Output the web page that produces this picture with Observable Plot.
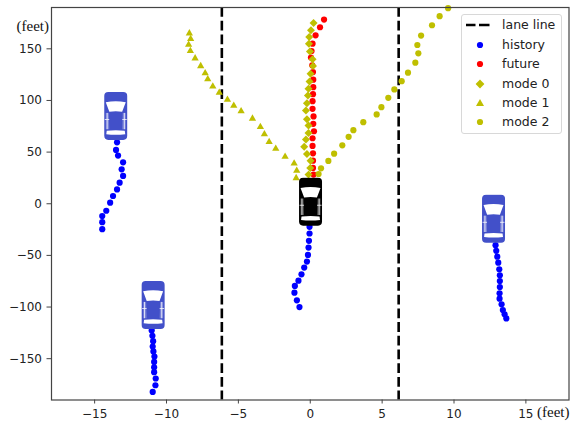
<!DOCTYPE html>
<html>
<head>
<meta charset="utf-8">
<script src="https://cdn.jsdelivr.net/npm/d3@7"></script>
<script src="https://cdn.jsdelivr.net/npm/@observablehq/plot@0.6"></script>
<style>
html,body{margin:0;padding:0;background:#fff;}
#wrap{position:relative;width:571px;height:421px;overflow:hidden;}
#legend{position:absolute;left:461px;top:14px;width:101px;height:120px;box-sizing:border-box;border:1px solid #d8d8d8;border-radius:3px;background:rgba(255,255,255,.85);font:12.5px "DejaVu Sans";color:#222;}
#legend .row{position:absolute;left:0;right:0;height:16px;line-height:16px;}
#legend .row span{position:absolute;left:40px;white-space:nowrap;}
#legend svg{position:absolute;left:4px;top:0;width:32px;height:16px;}
svg{display:block}
</style>
</head>
<body>
<div id="wrap"><div id="chart"></div><div id="legend"></div></div>
<script>
const laneX = [-6.15, 6.15];
const xTicks = [-15,-10,-5,0,5,10,15];
const yTicks = [-150,-100,-50,0,50,100,150];

const hist1X = [-13.44,-13.51,-13.37,-13.02,-13.12,-13.02,-13.26,-13.44,-13.72,-13.92,-14.19,-14.47,-14.47,-14.47];
const hist1Y = [59.5,52.1,46.6,40.1,33.3,26.9,20.4,13.9,7.5,1.0,-6.8,-11.9,-17.8,-24.6];
const hist2X = [-11.03,-10.98,-10.93,-10.96,-10.91,-10.84,-10.86,-10.86,-10.86,-10.75,-10.77,-10.96];
const hist2Y = [-122.6,-127.9,-133,-138.2,-143,-147.9,-153.1,-158.3,-163.1,-169.2,-175.7,-182.2];
const hist3X = [-0.05,-0.05,-0.09,-0.12,-0.16,-0.23,-0.42,-0.61,-0.82,-1.07,-1.1,-0.93,-0.75];
const hist3Y = [-22.3,-28.8,-35.9,-42.4,-49.5,-56,-61.8,-68.3,-74.5,-79.6,-86.1,-93.5,-100];
const hist4X = [12.89,12.94,13.01,13.08,13.15,13.19,13.19,13.19,13.17,13.17,13.31,13.4,13.52,13.64];
const hist4Y = [-40.1,-45.6,-51.2,-57,-63.4,-69.2,-74.8,-80.6,-86.7,-91.9,-97.4,-102.9,-107.1,-111];

const futureX = [.96,.68,.37,.16,.09,.05,.14,.19,.21,.21,.19,.16,.16,.23,.21,.26,.16,.16,.19,.19,.19,.23];
const futureY = [178.3,170.9,163.1,155,147.9,141.5,134,127.5,120.1,112.9,106.1,99.3,91.9,84.5,77.4,70.2,63.4,56,48.8,41.7,34.7,28.2];
const mode0X = [.23,.05,-.07,-.09,-.02,.16,.19,.02,-.05,-.12,-.16,-.23,-.3,-.23,-.12,-.12,-.3,-.42,-.23,.02,0,-.12];
const mode0Y = [175,167.9,161.4,155,147.5,140,133.3,125.9,118.4,111.4,104.9,97.4,90.3,81.9,75.7,68.6,62.1,55.3,48.2,41.7,34.7,28.2];
const mode1X = [-8.41,-8.32,-8.46,-8.34,-8.01,-7.62,-7.31,-7.13,-6.78,-6.33,-5.76,-5.32,-4.81,-4.02,-3.47,-3.19,-2.86,-2.4,-1.75,-1.12,-.94,-.98];
const mode1Y = [165,159.5,154,147.9,140.8,133.3,126.5,120.7,113.6,107.5,100.7,94.9,89.6,82.5,74.4,67.3,59.9,53.4,45.6,39.1,32,24.9];
const mode2X = [.58,.75,1.26,1.66,2.23,2.67,3.0,3.69,4.62,4.95,5.43,5.85,6.36,6.8,7.31,7.52,7.45,7.71,8.47,9.0,9.59];
const mode2Y = [28.8,34.3,41.5,48.5,56.6,64.8,71.2,79,86.5,93.5,102.6,110.7,118.7,126.9,136.6,145.6,153.7,162.8,172.8,181.6,189.3];

const carX = [-13.53,-10.93,12.75,0.02];
const carY = [85,-98,-14.5,2];
const carKind = ["other","other","other","ego"];
const carColor = {other:"#4250c9", ego:"#000000"};

const BLUE="#0000ff", RED="#ff0000", OLIVE="#bfbf00";

function zip(xs,ys){return xs.map((x,i)=>({x,y:ys[i]}));}
function carSrc(c){
  const s=`<svg xmlns="http://www.w3.org/2000/svg" viewBox="0 0 24 48">
<rect x="0.5" y="0.5" width="23" height="47" rx="4" fill="${c}"/>
<path d="M2 10.5 Q12 8.5 22 10.5 L18.4 20 Q12 19 5.6 20Z" fill="#fff"/>
<path d="M3 38.5 Q12 37.5 21 38.5 L21.5 42 Q12 43 2.5 42Z" fill="#fff"/>
<path d="M2 21 L5 21 L5.5 37 L2 37Z M22 21 L19 21 L18.5 37 L22 37Z" fill="#fff" opacity=".28"/>
<path d="M3.4 21 L3.4 37 M20.6 21 L20.6 37 M1 27.5 L5.5 27.5 M18.5 27.5 L23 27.5" stroke="#fff" stroke-width="0.9" opacity=".85" fill="none"/>
</svg>`;
  return "data:image/svg+xml;charset=utf-8,"+encodeURIComponent(s);
}

const plot = Plot.plot({
  width:571, height:421,
  marginLeft:51, marginRight:2.5, marginTop:7, marginBottom:21.5,
  style:{fontFamily:'"DejaVu Sans"',fontSize:"12px",color:"#222",background:"#fff",overflow:"visible"},
  x:{domain:[-18,18],label:null},
  y:{domain:[-190,190],label:null},
  marks:[
    Plot.ruleX(laneX,{stroke:"#000",strokeWidth:2.6,strokeDasharray:"9.8,3.9"}),
    Plot.dot(zip(hist1X,hist1Y),{x:"x",y:"y",r:3.1,fill:BLUE}),
    Plot.dot(zip(hist2X,hist2Y),{x:"x",y:"y",r:3.1,fill:BLUE}),
    Plot.dot(zip(hist3X,hist3Y),{x:"x",y:"y",r:3.1,fill:BLUE}),
    Plot.dot(zip(hist4X,hist4Y),{x:"x",y:"y",r:3.1,fill:BLUE}),
    Plot.dot(zip(futureX,futureY),{x:"x",y:"y",r:3.1,fill:RED}),
    Plot.dot(zip(mode0X,mode0Y),{x:"x",y:"y",r:3.6,symbol:"diamond2",fill:OLIVE}),
    Plot.dot(zip(mode1X,mode1Y),{x:"x",y:"y",r:2.7,symbol:"triangle",fill:OLIVE}),
    Plot.dot(zip(mode2X,mode2Y),{x:"x",y:"y",r:3.1,fill:OLIVE}),
    Plot.image(carX.map((x,i)=>({x,y:carY[i],kind:carKind[i]})),{
      x:"x",y:"y",width:24,height:49,preserveAspectRatio:"none",
      src:d=>carSrc(carColor[d.kind])
    }),
    Plot.frame({stroke:"#444",strokeWidth:1.2}),
    Plot.axisX({ticks:xTicks,tickSize:4,tickPadding:5,label:null,stroke:"#444"}),
    Plot.axisY({ticks:yTicks,tickSize:4.5,tickPadding:5,label:null,stroke:"#444"}),
    Plot.text(["(feet)"],{frameAnchor:"top-left",dx:-35,dy:19,textAnchor:"start",lineAnchor:"middle",fontFamily:'"Liberation Serif"',fontSize:15,fill:"#111"}),
    Plot.text(["(feet)"],{frameAnchor:"bottom-right",dx:0.5,dy:12.5,textAnchor:"end",lineAnchor:"middle",fontFamily:'"Liberation Serif"',fontSize:15,fill:"#111"})
  ]
});
document.getElementById("chart").appendChild(plot);

const legendRows = [
  ["lane line", '<line x1="-1" x2="27" y1="8" y2="8" stroke="#000" stroke-width="2.6" stroke-dasharray="10.5,3.5"/>'],
  ["history", `<circle cx="14" cy="8" r="3.1" fill="${BLUE}"/>`],
  ["future", `<circle cx="14" cy="8" r="3.1" fill="${RED}"/>`],
  ["mode 0", `<path d="M14 3.6L18.4 8L14 12.4L9.6 8Z" fill="${OLIVE}"/>`],
  ["mode 1", `<path d="M14 4L18 11H10Z" fill="${OLIVE}"/>`],
  ["mode 2", `<circle cx="14" cy="8" r="3.1" fill="${OLIVE}"/>`]
];
const rowTops = [2,21.5,40.5,61,80,99];
const lg = document.getElementById("legend");
legendRows.forEach(([t,sym],i)=>{
  const r=document.createElement("div");r.className="row";r.style.top=rowTops[i]+"px";
  r.innerHTML=`<svg viewBox="0 0 32 16">${sym}</svg><span>${t}</span>`;
  lg.appendChild(r);
});
</script>
</body>
</html>
